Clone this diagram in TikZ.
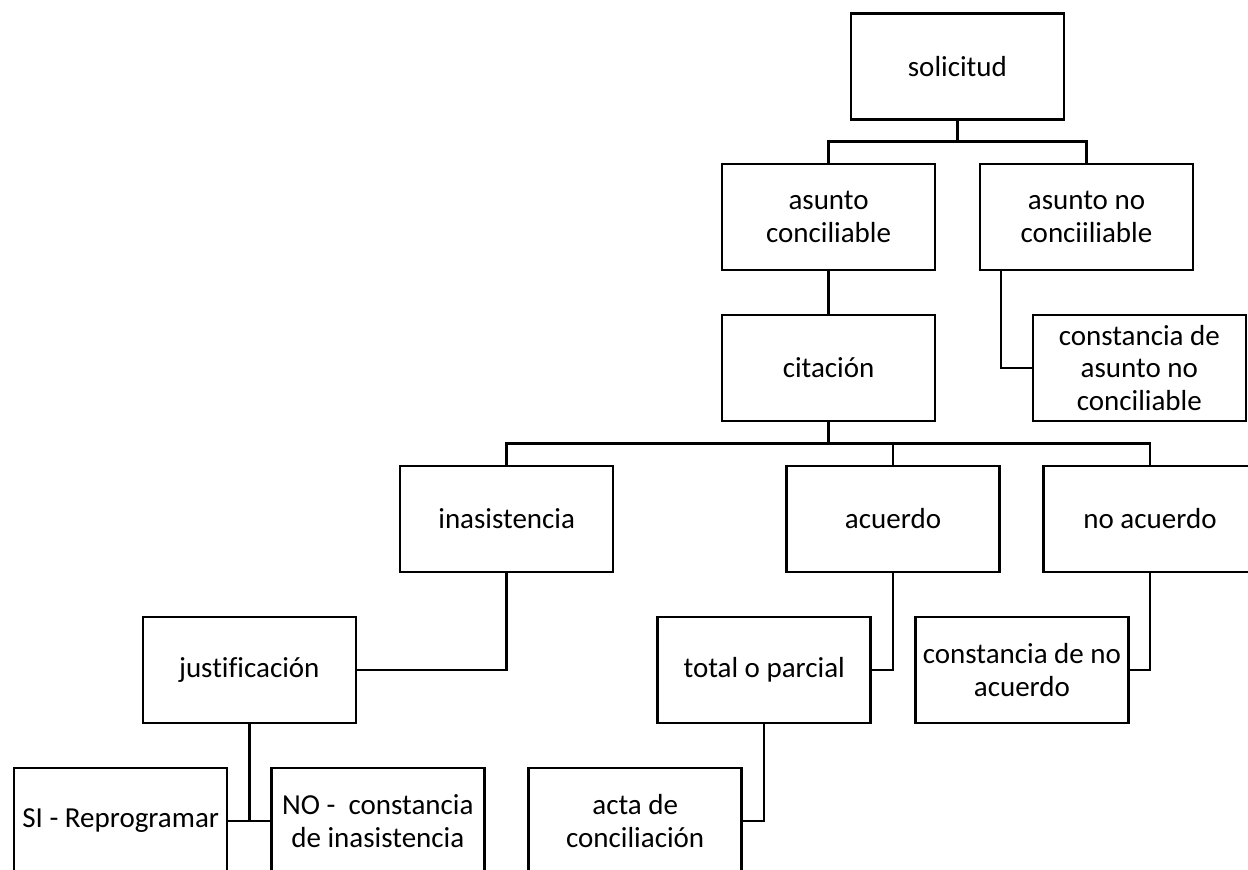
\documentclass[tikz,border=0pt]{standalone}
\usepackage{fontspec}
\setmainfont{Carlito}[Ligatures=NoCommon]
\usepackage{tikz}

\begin{document}
\begin{tikzpicture}[x=1pt,y=-1pt,
  box/.style={draw, line width=2.5pt, rectangle, minimum width=213pt, minimum height=106pt,
    inner sep=2pt, align=center, font=\fontsize{29}{32.5}\selectfont},
  link/.style={line width=2.5pt}]
  \useasboundingbox (0,0) rectangle (1248,870);

  % Solicitud
  \node[box] (sol) at (957.4,66.5) {solicitud};

  % Asunto conciliable / no conciliable
  \node[box] (asc) at (828.6,217) {asunto\\conciliable};
  \node[box] (asn) at (1086.5,217) {asunto no\\conciiliable};
  \node[box] (cna) at (1139.3,368) {constancia de\\asunto no\\conciliable};
  \node[box] (cit) at (828.6,368) {citación};

  % Resultado de la citacion
  \node[box] (ina) at (506.7,519) {inasistencia};
  \node[box] (acu) at (893,519) {acuerdo};
  \node[box] (nac) at (1150,519) {no acuerdo};

  % Cuarto nivel
  \node[box] (jus) at (249.3,670) {justificación};
  \node[box] (tot) at (764.2,670) {total o parcial};
  \node[box] (cnd) at (1021.9,670) {constancia de no\\acuerdo};

  % Ultimo nivel
  \node[box] (rep) at (120.7,821) {SI - Reprogramar};
  \node[box] (cin) at (377.8,821) {NO -\ \ constancia\\de inasistencia};
  \node[box] (act) at (635.2,821) {acta de\\conciliación};

  % Conectores
  \coordinate (bus1) at (0,141.5);
  \coordinate (bus2) at (0,443.3);
  \draw[link] (sol.south) -- (sol.south |- bus1);
  \draw[link] (asc.north) |- (asn.north |- bus1) -- (asn.north);
  \draw[link] (asc) -- (cit);
  \draw[link] ([xshift=-85.4pt]asn.south) |- (cna.west);
  \draw[link] (cit.south) -- (cit.south |- bus2);
  \draw[link] (ina.north) |- (nac.north |- bus2) -- (nac.north);
  \draw[link] (acu.north) -- (acu.north |- bus2);
  \draw[link] (ina.south) |- (jus.east);
  \draw[link] (acu.south) |- (tot.east);
  \draw[link] (nac.south) |- (cnd.east);
  \draw[link] (jus.south) |- (rep.east);
  \draw[link] (jus.south) |- (cin.west);
  \draw[link] (tot.south) |- (act.east);
\end{tikzpicture}
\end{document}
